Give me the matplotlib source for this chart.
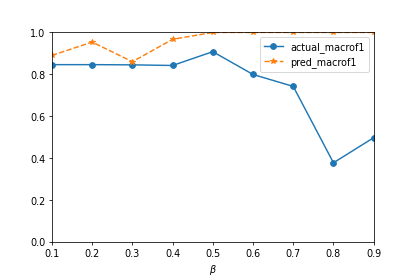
import matplotlib
matplotlib.use("Agg")
import matplotlib.pyplot as plt

beta = [0.1, 0.2, 0.3, 0.4, 0.5, 0.6, 0.7, 0.8, 0.9]
actual_macrof1 = [0.846, 0.846, 0.845, 0.842, 0.908, 0.799, 0.742, 0.377, 0.497]
pred_macrof1 = [0.890, 0.954, 0.860, 0.967, 1.0, 1.0, 1.0, 1.0, 1.0]

fig, ax = plt.subplots(figsize=(6, 4), dpi=69.2)
fig.subplots_adjust(left=0.125, right=0.9, top=0.88, bottom=0.124)
ax.plot(beta, actual_macrof1, marker='o', linestyle='-', label='actual_macrof1')
ax.plot(beta, pred_macrof1, marker='*', linestyle='--', label='pred_macrof1')
ax.set_xlim(0.1, 0.9)
ax.set_ylim(0.0, 1.0)
ax.set_xlabel(r'$\beta$')
ax.legend(loc='upper right')
fig.savefig('out.png', dpi=69.2)
